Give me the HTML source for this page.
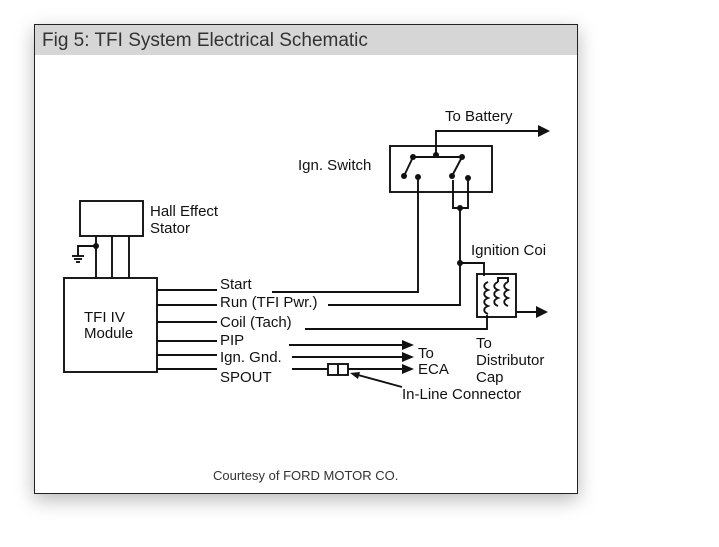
<!DOCTYPE html>
<html><head><style>
body{margin:0;background:#fff;width:719px;height:547px;overflow:hidden;font-family:"Liberation Sans",sans-serif}
#box{position:absolute;left:34px;top:24px;width:542px;height:468px;border:1px solid #222;background:#fff;box-shadow:0 6px 18px rgba(0,0,0,.28)}
#title{height:30px;background:#d6d6d6;font-size:19px;color:#333;line-height:31px;padding-left:7px}
svg{position:absolute;left:0;top:0}
</style></head><body>
<div id="box"><div id="title">Fig 5: TFI System Electrical Schematic</div></div>
<svg width="719" height="547" viewBox="0 0 719 547" font-family="Liberation Sans, sans-serif" font-size="15" fill="#111">
<g stroke="#111" stroke-width="1.9" fill="none">
<rect x="80" y="201" width="63" height="35"/>
<line x1="96" y1="236" x2="96" y2="278"/><line x1="112" y1="236" x2="112" y2="278"/><line x1="129" y1="236" x2="129" y2="278"/>
<polyline points="96,246 78,246 78,256"/>
<line x1="72" y1="256" x2="84" y2="256"/><line x1="74" y1="259" x2="82" y2="259"/><line x1="76" y1="262" x2="80" y2="262"/>
<rect x="64" y="278" width="93" height="94"/>
<line x1="157" y1="290" x2="217" y2="290"/><line x1="157" y1="305" x2="217" y2="305"/>
<line x1="157" y1="322" x2="217" y2="322"/><line x1="157" y1="341" x2="217" y2="341"/>
<line x1="157" y1="355" x2="217" y2="355"/><line x1="157" y1="369" x2="217" y2="369"/>
<polyline points="272,292 418,292 418,178"/>
<polyline points="328,305 460,305 460,208"/>
<polyline points="453,180 453,208 468,208 468,180"/>
<polyline points="460,263 484,263 484,276"/>
<polyline points="305,329 487,329 487,315"/>
<line x1="289" y1="345" x2="405" y2="345"/>
<line x1="292" y1="357" x2="405" y2="357"/>
<line x1="292" y1="369" x2="328" y2="369"/>
<rect x="328" y="364" width="20" height="11"/><line x1="338" y1="364" x2="338" y2="375"/>
<line x1="348" y1="369" x2="405" y2="369"/>
<line x1="358" y1="375" x2="402" y2="387"/>
<rect x="390" y="146" width="102" height="46"/>
<polyline points="436,155 436,131 540,131"/>
<line x1="413" y1="157" x2="462" y2="157"/>
<line x1="413" y1="157" x2="404" y2="176"/>
<line x1="462" y1="157" x2="452" y2="176"/>
<rect x="477" y="274" width="39" height="43"/>
<line x1="516" y1="312" x2="538" y2="312"/>
<path d="M488 282 c-5 2 -5 6 0 8 c-5 2 -5 6 0 8 c-5 2 -5 6 0 8 c-5 2 -5 6 0 8"/>
<path d="M498 282 c-5 2 -5 6 0 8 c-5 2 -5 6 0 8 c-5 2 -5 6 0 8"/>
<path d="M508 282 c-5 2 -5 6 0 8 c-5 2 -5 6 0 8 c-5 2 -5 6 0 8"/>
<polyline points="498,282 498,278 508,278 508,282"/>
</g>
<g fill="#111">
<circle cx="96" cy="246" r="3"/>
<circle cx="460" cy="208" r="3"/><circle cx="460" cy="263" r="3"/>
<circle cx="436" cy="155" r="3"/><circle cx="413" cy="157" r="3"/><circle cx="462" cy="157" r="3"/>
<circle cx="404" cy="176" r="3"/><circle cx="418" cy="177" r="3"/><circle cx="452" cy="176" r="3"/><circle cx="468" cy="178" r="3"/>
<polygon points="538,125 550,131 538,137"/>
<polygon points="536,306 548,312 536,318"/>
<polygon points="402,340 414,345 402,350"/>
<polygon points="402,352 414,357 402,362"/>
<polygon points="402,364 414,369 402,374"/>
<polygon points="350,373 360,372 358,379"/>
</g>
<text x="150" y="216">Hall Effect</text><text x="150" y="233">Stator</text>
<text x="84" y="322">TFI IV</text><text x="84" y="338">Module</text>
<text x="220" y="289">Start</text><text x="220" y="307">Run (TFI Pwr.)</text>
<text x="220" y="327">Coil (Tach)</text><text x="220" y="345">PIP</text>
<text x="220" y="362">Ign. Gnd.</text><text x="220" y="382">SPOUT</text>
<text x="418" y="358">To</text><text x="418" y="374">ECA</text>
<text x="402" y="399">In-Line Connector</text>
<text x="445" y="121">To Battery</text><text x="298" y="170">Ign. Switch</text>
<text x="471" y="255">Ignition Coi</text>
<text x="476" y="348">To</text><text x="476" y="365">Distributor</text><text x="476" y="382">Cap</text>
<text x="213" y="480" font-size="13" fill="#333">Courtesy of FORD MOTOR CO.</text>
</svg>
</body></html>
